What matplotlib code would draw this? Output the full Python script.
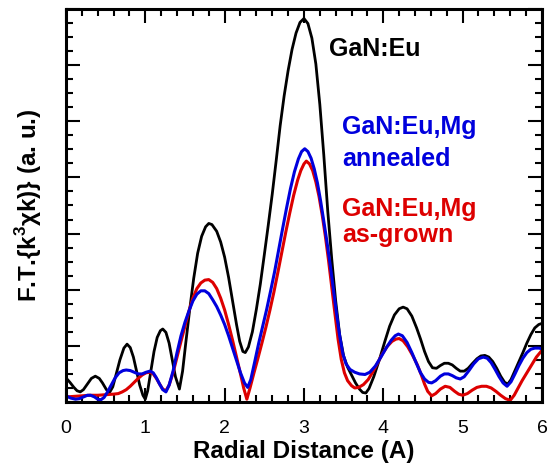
import matplotlib
matplotlib.use('Agg')
import matplotlib.pyplot as plt
from matplotlib.ticker import MultipleLocator, NullFormatter

# GaN:Eu (black)
r_eu = [0.00, 0.05, 0.10, 0.14, 0.18, 0.22, 0.27, 0.32, 0.37, 0.42, 0.46, 0.51, 0.55, 0.59,
        0.63, 0.68, 0.73, 0.77, 0.81, 0.85, 0.89, 0.93, 0.97, 1.00, 1.03, 1.07, 1.11, 1.15,
        1.19, 1.22, 1.26, 1.30, 1.34, 1.38, 1.43, 1.47, 1.51, 1.56, 1.61, 1.66, 1.71, 1.76,
        1.80, 1.84, 1.90, 1.95, 2.00, 2.05, 2.10, 2.15, 2.19, 2.23, 2.26, 2.30, 2.35, 2.40,
        2.45, 2.50, 2.55, 2.60, 2.65, 2.70, 2.75, 2.80, 2.85, 2.90, 2.95, 3.00, 3.05, 3.10,
        3.15, 3.20, 3.25, 3.30, 3.35, 3.40, 3.45, 3.50, 3.55, 3.60, 3.65, 3.70, 3.74, 3.78,
        3.82, 3.88, 3.95, 4.02, 4.08, 4.14, 4.20, 4.25, 4.30, 4.36, 4.42, 4.47, 4.52, 4.57,
        4.62, 4.67, 4.72, 4.77, 4.82, 4.87, 4.92, 4.97, 5.02, 5.07, 5.12, 5.18, 5.23, 5.28,
        5.33, 5.38, 5.43, 5.48, 5.53, 5.57, 5.61, 5.66, 5.71, 5.76, 5.81, 5.86, 5.91, 5.96,
        6.00]
ft_eu = [0.43, 0.35, 0.26, 0.20, 0.18, 0.22, 0.32, 0.42, 0.46, 0.42, 0.34, 0.22, 0.17, 0.27,
         0.48, 0.75, 0.96, 1.03, 0.97, 0.80, 0.55, 0.30, 0.12, 0.05, 0.20, 0.55, 0.90, 1.15,
         1.27, 1.30, 1.24, 1.05, 0.75, 0.45, 0.23, 0.55, 1.05, 1.65, 2.20, 2.65, 2.95, 3.12,
         3.18, 3.16, 3.04, 2.85, 2.58, 2.22, 1.80, 1.38, 1.08, 0.90, 0.88, 0.98, 1.25, 1.65,
         2.10, 2.62, 3.15, 3.70, 4.30, 4.92, 5.45, 5.90, 6.28, 6.57, 6.76, 6.83, 6.74, 6.48,
         6.02, 5.30, 4.40, 3.40, 2.55, 1.80, 1.20, 0.82, 0.62, 0.48, 0.34, 0.23, 0.17, 0.16,
         0.24, 0.45, 0.75, 1.08, 1.35, 1.55, 1.66, 1.69, 1.66, 1.53, 1.32, 1.12, 0.90, 0.72,
         0.61, 0.60, 0.65, 0.69, 0.69, 0.66, 0.60, 0.55, 0.55, 0.60, 0.68, 0.77, 0.82, 0.83,
         0.80, 0.72, 0.60, 0.46, 0.35, 0.32, 0.40, 0.56, 0.72, 0.88, 1.05, 1.20, 1.32, 1.38,
         1.40]

# GaN:Eu,Mg annealed (blue)
r_ann = [0.00, 0.06, 0.12, 0.17, 0.22, 0.27, 0.31, 0.36, 0.40, 0.44, 0.48, 0.52, 0.57, 0.62,
         0.67, 0.72, 0.76, 0.81, 0.86, 0.91, 0.96, 1.01, 1.06, 1.10, 1.14, 1.18, 1.22, 1.26,
         1.30, 1.35, 1.40, 1.45, 1.50, 1.55, 1.60, 1.65, 1.70, 1.75, 1.80, 1.85, 1.90, 1.95,
         2.00, 2.05, 2.10, 2.15, 2.20, 2.25, 2.29, 2.33, 2.38, 2.43, 2.48, 2.53, 2.58, 2.63,
         2.68, 2.73, 2.78, 2.83, 2.88, 2.93, 2.97, 3.01, 3.05, 3.09, 3.13, 3.17, 3.21, 3.25,
         3.29, 3.33, 3.37, 3.41, 3.45, 3.49, 3.53, 3.58, 3.64, 3.70, 3.77, 3.83, 3.90, 3.97,
         4.04, 4.10, 4.15, 4.19, 4.24, 4.30, 4.36, 4.42, 4.47, 4.52, 4.57, 4.61, 4.66, 4.72,
         4.77, 4.82, 4.87, 4.92, 4.97, 5.02, 5.08, 5.14, 5.20, 5.26, 5.31, 5.36, 5.41, 5.46,
         5.51, 5.56, 5.61, 5.66, 5.71, 5.76, 5.81, 5.86, 5.91, 5.96, 6.00]
ft_ann = [0.11, 0.07, 0.05, 0.06, 0.09, 0.12, 0.12, 0.09, 0.05, 0.04, 0.08, 0.17, 0.30, 0.43,
          0.52, 0.56, 0.57, 0.56, 0.53, 0.50, 0.50, 0.53, 0.55, 0.52, 0.43, 0.32, 0.22, 0.18,
          0.30, 0.55, 0.88, 1.18, 1.42, 1.62, 1.80, 1.92, 1.98, 1.98, 1.93, 1.82, 1.70, 1.55,
          1.38, 1.18, 0.96, 0.74, 0.52, 0.34, 0.26, 0.40, 0.72, 1.05, 1.35, 1.65, 1.98, 2.32,
          2.70, 3.08, 3.45, 3.80, 4.10, 4.33, 4.46, 4.51, 4.46, 4.34, 4.15, 3.90, 3.58, 3.22,
          2.85, 2.45, 2.02, 1.58, 1.18, 0.86, 0.68, 0.58, 0.53, 0.50, 0.49, 0.53, 0.64, 0.80,
          0.97, 1.10, 1.18, 1.21, 1.18, 1.06, 0.88, 0.68, 0.52, 0.41, 0.35, 0.34, 0.38, 0.46,
          0.50, 0.50, 0.47, 0.43, 0.41, 0.45, 0.56, 0.68, 0.77, 0.80, 0.78, 0.70, 0.58, 0.45,
          0.34, 0.28, 0.36, 0.50, 0.65, 0.78, 0.88, 0.94, 0.96, 0.96, 0.95]

# GaN:Eu,Mg as-grown (red)
r_asg = [0.00, 0.10, 0.20, 0.30, 0.40, 0.50, 0.60, 0.66, 0.71, 0.76, 0.81, 0.86, 0.91, 0.96,
         1.01, 1.06, 1.10, 1.14, 1.18, 1.22, 1.26, 1.30, 1.35, 1.40, 1.45, 1.50, 1.55, 1.60,
         1.65, 1.70, 1.75, 1.80, 1.85, 1.90, 1.95, 2.00, 2.05, 2.10, 2.15, 2.20, 2.24, 2.28,
         2.32, 2.37, 2.42, 2.47, 2.52, 2.57, 2.62, 2.67, 2.72, 2.77, 2.82, 2.87, 2.92, 2.96,
         3.00, 3.03, 3.07, 3.11, 3.15, 3.19, 3.23, 3.27, 3.31, 3.35, 3.39, 3.43, 3.47, 3.51,
         3.55, 3.60, 3.64, 3.69, 3.75, 3.81, 3.87, 3.93, 3.99, 4.05, 4.11, 4.16, 4.20, 4.25,
         4.31, 4.37, 4.43, 4.48, 4.52, 4.56, 4.61, 4.66, 4.72, 4.78, 4.84, 4.90, 4.95, 5.00,
         5.06, 5.12, 5.18, 5.24, 5.30, 5.36, 5.42, 5.48, 5.54, 5.60, 5.65, 5.70, 5.75, 5.81,
         5.87, 5.93, 6.00]
ft_asg = [0.09, 0.10, 0.11, 0.12, 0.12, 0.13, 0.14, 0.15, 0.18, 0.22, 0.28, 0.35, 0.42, 0.48,
          0.52, 0.53, 0.50, 0.42, 0.32, 0.23, 0.20, 0.30, 0.52, 0.80, 1.08, 1.35, 1.62, 1.85,
          2.02, 2.12, 2.17, 2.18, 2.13, 2.02, 1.85, 1.64, 1.38, 1.10, 0.80, 0.50, 0.25, 0.05,
          0.25, 0.52, 0.78, 1.05, 1.33, 1.63, 1.95, 2.30, 2.66, 3.02, 3.36, 3.68, 3.95, 4.12,
          4.24, 4.29, 4.24, 4.12, 3.92, 3.66, 3.33, 2.95, 2.52, 2.05, 1.58, 1.12, 0.76, 0.52,
          0.38, 0.29, 0.25, 0.26, 0.31, 0.40, 0.54, 0.70, 0.86, 0.99, 1.08, 1.12, 1.13, 1.09,
          0.98, 0.83, 0.66, 0.48, 0.32, 0.19, 0.11, 0.15, 0.23, 0.28, 0.26, 0.19, 0.14, 0.12,
          0.15, 0.21, 0.26, 0.28, 0.28, 0.25, 0.19, 0.12, 0.06, 0.03, 0.12, 0.25, 0.38, 0.52,
          0.66, 0.80, 0.92]

plt.rcParams['font.family'] = ['Liberation Sans', 'DejaVu Sans']
plt.rcParams['mathtext.fontset'] = 'custom'
plt.rcParams['mathtext.rm'] = 'Liberation Sans'
plt.rcParams['mathtext.bf'] = 'Liberation Sans:bold'

blue = '#0000dd'
red = '#dd0000'

fig = plt.figure(figsize=(5.53, 4.71), dpi=100)
ax = fig.add_axes([0.1193, 0.1465, 0.8607, 0.8345])

ax.plot(r_eu, ft_eu, color='black', lw=2.0, solid_joinstyle='round')
ax.plot(r_asg, ft_asg, color=red, lw=2.2, solid_joinstyle='round')
ax.plot(r_ann, ft_ann, color=blue, lw=2.2, solid_joinstyle='round')

ax.set_xlim(0, 6)
ax.set_ylim(0, 7)
ax.xaxis.set_major_locator(MultipleLocator(1))
ax.xaxis.set_minor_locator(MultipleLocator(0.2))
ax.yaxis.set_major_locator(MultipleLocator(1))
ax.yaxis.set_minor_locator(MultipleLocator(0.25))
ax.yaxis.set_major_formatter(NullFormatter())
ax.tick_params(which='both', direction='in', top=True, right=True, width=1.5)
ax.tick_params(which='major', length=10)
ax.tick_params(which='minor', length=5)
ax.tick_params(axis='x', labelsize=14, pad=13)
for s in ax.spines.values():
    s.set_linewidth(2.2)

ax.set_xlabel('Radial Distance (A)', fontsize=17.5, fontweight='bold', labelpad=2)
ax.set_ylabel(r'F.T.{k$^{\mathbf{3}}$χk)} (a. u.)', fontsize=17.5, fontweight='bold', labelpad=12)

ax.text(3.32, 6.16, 'GaN:Eu', color='black', fontsize=18, fontweight='bold')
ax.text(3.48, 4.78, 'GaN:Eu,Mg', color=blue, fontsize=18, fontweight='bold')
ax.text(3.48, 4.21, 'annealed', color=blue, fontsize=18, fontweight='bold')
ax.text(3.48, 3.32, 'GaN:Eu,Mg', color=red, fontsize=18, fontweight='bold')
ax.text(3.48, 2.85, 'as-grown', color=red, fontsize=18, fontweight='bold')

fig.savefig('out.png', dpi=100)
